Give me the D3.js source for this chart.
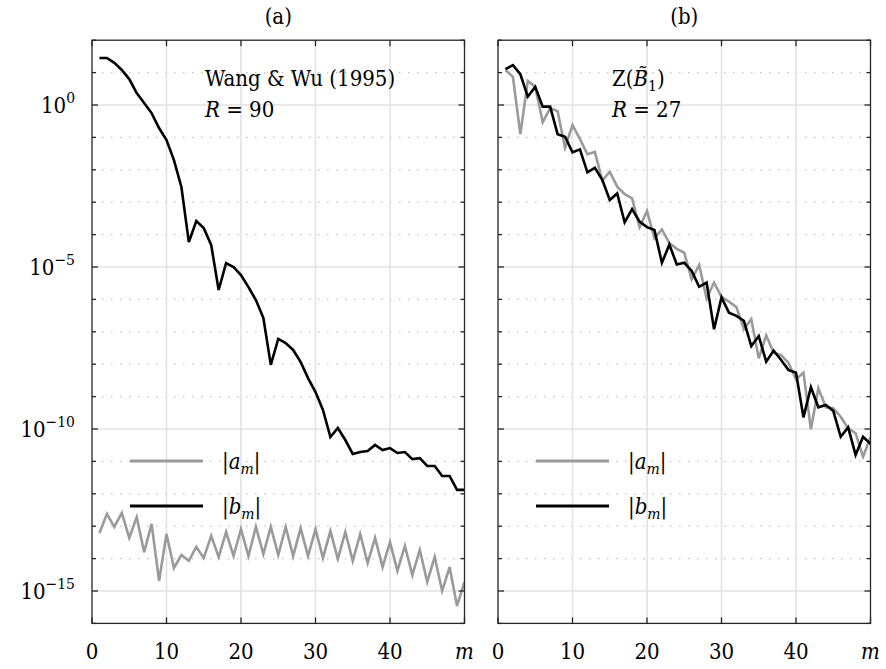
<!DOCTYPE html>
<html>
<head>
<meta charset="utf-8">
<script src="https://cdn.jsdelivr.net/npm/d3@7"></script>
<style>
  html, body { margin: 0; padding: 0; background: #fff; }
  svg { display: block; }
  svg text { font-stretch: condensed; }
</style>
</head>
<body>
<svg id="chart" width="886" height="669"></svg>
<script>
// mode index m = 1..50
const modes = d3.range(1, 51);

// panel (a): Wang & Wu (1995), R = 90 -- log10 of |a_m| and |b_m|
const aExpA = [-13.21, -12.62, -13.02, -12.59, -13.36, -12.72, -13.80, -12.93, -14.69, -13.24,
  -14.29, -13.89, -14.07, -13.64, -13.98, -13.30, -13.95, -13.18, -13.92, -13.09,
  -13.92, -13.02, -13.86, -13.02, -13.89, -13.02, -13.92, -13.06, -13.92, -13.09,
  -13.98, -13.15, -14.01, -13.18, -14.07, -13.24, -14.14, -13.36, -14.26, -13.49,
  -14.38, -13.61, -14.51, -13.73, -14.72, -13.95, -15.00, -14.26, -15.46, -14.72];
const bExpA = [1.45, 1.45, 1.30, 1.08, 0.80, 0.37, 0.06, -0.25, -0.71, -1.08,
  -1.70, -2.53, -4.23, -3.58, -3.80, -4.32, -5.71, -4.88, -5.00, -5.25,
  -5.62, -6.02, -6.57, -8.02, -7.22, -7.35, -7.56, -7.93, -8.43, -8.86,
  -9.41, -10.25, -9.97, -10.34, -10.77, -10.71, -10.68, -10.49, -10.65, -10.59,
  -10.74, -10.71, -10.93, -10.90, -11.14, -11.14, -11.45, -11.45, -11.88, -11.88];

// panel (b): Z(B~1), R = 27
const aExpB = [1.08, 0.87, -0.90, 0.74, 0.56, -0.53, -0.10, -0.19, -1.32, -0.62,
  -1.05, -1.52, -1.45, -2.33, -2.06, -2.52, -2.75, -2.88, -3.77, -3.27,
  -4.11, -3.84, -4.26, -4.44, -4.56, -5.38, -4.94, -5.97, -5.48, -5.92,
  -6.07, -6.24, -6.92, -6.61, -7.82, -7.11, -7.65, -7.72, -7.96, -8.47,
  -8.26, -10.01, -8.74, -9.33, -9.36, -9.62, -9.98, -10.13, -10.85, -10.26];
const bExpB = [1.11, 1.23, 0.95, 0.26, 0.56, -0.05, -0.05, -0.90, -0.98, -1.46,
  -1.37, -2.08, -1.94, -2.31, -2.93, -2.73, -3.62, -3.21, -3.60, -3.77,
  -3.86, -4.87, -4.31, -4.92, -4.87, -5.12, -5.61, -5.48, -6.92, -5.94,
  -6.41, -6.51, -6.66, -7.44, -7.13, -7.92, -7.58, -7.87, -8.18, -8.26,
  -9.64, -8.71, -9.33, -9.26, -9.44, -10.24, -9.95, -10.80, -10.24, -10.46];

const xTicks = [0, 10, 20, 30, 40, 50];
const xTickLabels = ['0', '10', '20', '30', '40', 'm'];
const yDecades = d3.range(-16, 3);
const yLabelled = [0, -5, -10, -15];
const panelTitles = ['(a)', '(b)'];
const seriesLabels = ['a', 'b'];

const GRAY = '#9a9a9a';
const AXIS = '#262626';
const GRID = '#e3e3e3';
const MINOR = '#c4c4c4';
const FONT = "'DejaVu Serif Condensed', 'DejaVu Serif', serif";
const FS = 22, FS_SUB = 15.5;

const svg = d3.select('#chart').attr('font-family', FONT);
const plotTop = 40.2, plotBottom = 623.4, pw = 372.5;

const y = d3.scaleLog().domain([1e-16, 1e2]).range([plotBottom, plotTop]);

const panels = [
  { left: 92, a: aExpA, b: bExpA, title: panelTitles[0], yLabels: true,
    note: [{ t: 'Wang & Wu (1995)' }, { r: '90' }], noteX: 205,
    legX: 130, legY: [461, 506] },
  { left: 498, a: aExpB, b: bExpB, title: panelTitles[1], yLabels: false,
    note: [{ z: true }, { r: '27' }], noteX: 612,
    legX: 536, legY: [461, 506] }
];

panels.forEach((p, i) => {
  const x = d3.scaleLinear().domain([0, 50]).range([p.left, p.left + pw]);
  const g = svg.append('g');
  const clipId = 'clip-' + i;
  svg.append('clipPath').attr('id', clipId)
    .append('rect').attr('x', p.left).attr('y', plotTop).attr('width', pw).attr('height', plotBottom - plotTop);

  // minor (dotted) decade grid
  g.selectAll('.minor').data(yDecades.filter(k => k % 5 !== 0 && k > -16 && k < 2))
    .join('line')
    .attr('x1', p.left + 1).attr('x2', p.left + pw - 1)
    .attr('y1', k => y(10 ** k)).attr('y2', k => y(10 ** k))
    .attr('stroke', MINOR).attr('stroke-width', 1.2)
    .attr('stroke-dasharray', '1.5 7.5');

  // major grid
  g.selectAll('.hgrid').data(yLabelled)
    .join('line')
    .attr('x1', p.left).attr('x2', p.left + pw)
    .attr('y1', k => y(10 ** k)).attr('y2', k => y(10 ** k))
    .attr('stroke', GRID).attr('stroke-width', 1.6);
  g.selectAll('.vgrid').data(xTicks.slice(1, -1))
    .join('line')
    .attr('x1', d => x(d)).attr('x2', d => x(d))
    .attr('y1', plotTop).attr('y2', plotBottom)
    .attr('stroke', GRID).attr('stroke-width', 1.6);

  // series
  const line = d3.line().x((d, j) => x(modes[j])).y(d => y(10 ** d));
  const lines = g.append('g').attr('clip-path', `url(#${clipId})`);
  lines.append('path').datum(p.a).attr('d', line)
    .attr('fill', 'none').attr('stroke', GRAY).attr('stroke-width', 2.6)
    .attr('stroke-linejoin', 'miter');
  lines.append('path').datum(p.b).attr('d', line)
    .attr('fill', 'none').attr('stroke', '#000').attr('stroke-width', 2.6)
    .attr('stroke-linejoin', 'miter');

  // frame + inward ticks
  g.append('rect').attr('x', p.left).attr('y', plotTop).attr('width', pw).attr('height', plotBottom - plotTop)
    .attr('fill', 'none').attr('stroke', AXIS).attr('stroke-width', 1.3);
  const tk = g.append('g').attr('stroke', AXIS).attr('stroke-width', 1.3);
  yDecades.forEach(k => {
    const len = yLabelled.includes(k) ? 6 : 4;
    const yy = y(10 ** k);
    tk.append('line').attr('x1', p.left).attr('x2', p.left + len).attr('y1', yy).attr('y2', yy);
    tk.append('line').attr('x1', p.left + pw).attr('x2', p.left + pw - len).attr('y1', yy).attr('y2', yy);
  });
  xTicks.forEach(d => {
    tk.append('line').attr('x1', x(d)).attr('x2', x(d)).attr('y1', plotBottom).attr('y2', plotBottom - 6);
    tk.append('line').attr('x1', x(d)).attr('x2', x(d)).attr('y1', plotTop).attr('y2', plotTop + 6);
  });

  // x tick labels
  g.selectAll('.xl').data(xTicks).join('text')
    .attr('x', d => x(d)).attr('y', 659)
    .attr('text-anchor', 'middle').attr('font-size', FS)
    .style('font-style', (d, j) => xTickLabels[j] === 'm' ? 'italic' : null)
    .text((d, j) => xTickLabels[j]);

  // y tick labels
  if (p.yLabels) {
    yLabelled.forEach(k => {
      const t = g.append('text').attr('x', 75).attr('y', y(10 ** k) + 8)
        .attr('text-anchor', 'end').attr('font-size', FS);
      t.append('tspan').text('10');
      t.append('tspan').attr('dy', -10).attr('font-size', FS_SUB)
        .text(k === 0 ? '0' : '\u2212' + Math.abs(k));
    });
  }

  // title
  g.append('text').attr('x', p.left + pw / 2).attr('y', 24)
    .attr('text-anchor', 'middle').attr('font-size', FS).text(p.title);

  // annotation
  const n1 = g.append('text').attr('x', p.noteX).attr('y', 86).attr('font-size', FS);
  if (p.note[0].t) {
    n1.text(p.note[0].t);
  } else {
    n1.append('tspan').text('Z(');
    n1.append('tspan').style('font-style', 'italic').text('B\u0303');
    n1.append('tspan').attr('dy', 5).attr('font-size', FS_SUB).text('1');
    n1.append('tspan').attr('dy', -5).text(')');
  }
  const n2 = g.append('text').attr('x', p.noteX).attr('y', 117).attr('font-size', FS);
  n2.append('tspan').style('font-style', 'italic').text('R');
  n2.append('tspan').text(' = ' + p.note[1].r);

  // legend
  const leg = g.append('g');
  [GRAY, '#000'].forEach((c, j) => {
    leg.append('line').attr('x1', p.legX).attr('x2', p.legX + 73)
      .attr('y1', p.legY[j]).attr('y2', p.legY[j])
      .attr('stroke', c).attr('stroke-width', 2.8);
    const t = leg.append('text').attr('x', p.legX + 92).attr('y', p.legY[j] + 8)
      .attr('font-size', FS).attr('fill', '#000');
    t.append('tspan').text('|');
    t.append('tspan').style('font-style', 'italic').text(seriesLabels[j]);
    t.append('tspan').attr('dy', 5).attr('font-size', FS_SUB).style('font-style', 'italic').text('m');
    t.append('tspan').attr('dy', -5).text('|');
  });
});
</script>
</body>
</html>
